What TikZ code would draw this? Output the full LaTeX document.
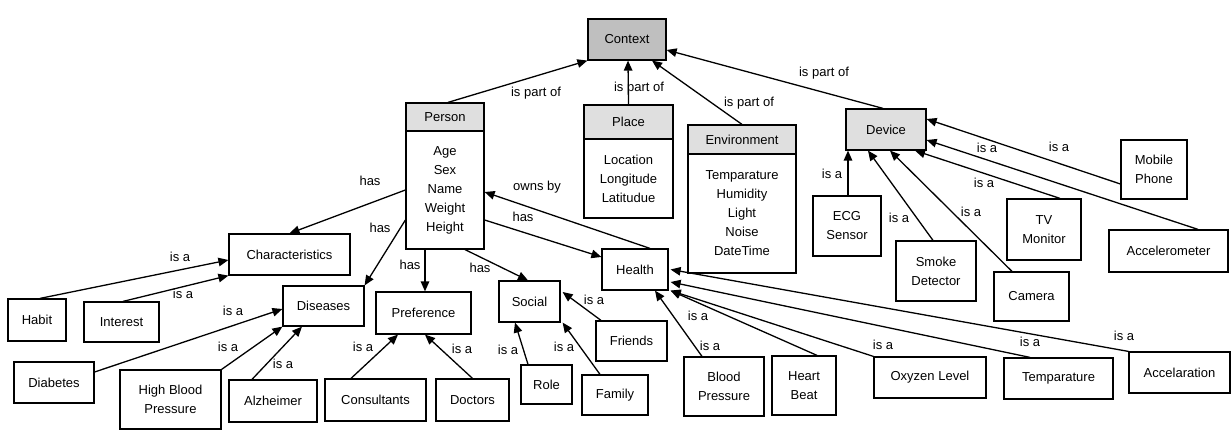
\documentclass[tikz,border=0pt]{standalone}
\usepackage{fontspec}
\setmainfont{Liberation Sans}
\usetikzlibrary{arrows.meta}
\begin{document}
\begin{tikzpicture}[x=1pt,y=-1pt,
  every node/.style={font=\fontsize{13}{19}\selectfont},
  box/.style={draw, line width=1.2pt, inner sep=0pt, align=center},
  lbl/.style={inner sep=0pt},
  conn/.style={line width=1.3pt, -{Triangle[length=10pt,width=8.5pt]}},
  hdr/.style={box, fill=gray!25},
]
\useasboundingbox (0,0) rectangle (1231,443);
% top
\node[box, fill=gray!50, minimum width=78pt, minimum height=41pt] (context) at (627,39.5) {Context};
% person
\node[hdr, minimum width=78pt, minimum height=28pt] (personh) at (445,117) {Person};
\node[box, minimum width=78pt, minimum height=118pt] (personb) at (445,190) {Age\\Sex\\Name\\Weight\\Height};
% place
\node[hdr, minimum width=89pt, minimum height=34pt] (placeh) at (628.5,122) {Place};
\node[box, minimum width=89pt, minimum height=79pt] (placeb) at (628.5,178.5) {Location\\Longitude\\Latitudue};
% environment
\node[hdr, minimum width=108pt, minimum height=29pt] (envh) at (742,139.5) {Environment};
\node[box, minimum width=108pt, minimum height=119pt] (envb) at (742,213.5) {Temparature\\Humidity\\Light\\Noise\\DateTime};
% device
\node[hdr, minimum width=80pt, minimum height=41pt] (device) at (886,129.5) {Device};
\node[box, minimum width=68pt, minimum height=60pt] (ecg) at (847,226) {ECG\\Sensor};
\node[box, minimum width=80pt, minimum height=60pt] (smoke) at (936,271) {Smoke\\Detector};
\node[box, minimum width=75pt, minimum height=49pt] (camera) at (1031.5,296.5) {Camera};
\node[box, minimum width=74pt, minimum height=61pt] (tv) at (1044,229.5) {TV\\Monitor};
\node[box, minimum width=66pt, minimum height=59pt] (mobile) at (1154,169.5) {Mobile\\Phone};
\node[box, minimum width=119pt, minimum height=42pt] (accm) at (1168.5,251) {Accelerometer};
% health
\node[box, minimum width=66pt, minimum height=41pt] (health) at (635,269.5) {Health};
\node[box, minimum width=112pt, minimum height=41pt] (oxy) at (930,377.5) {Oxyzen Level};
\node[box, minimum width=109pt, minimum height=41pt] (temp) at (1058.5,378.5) {Temparature};
\node[box, minimum width=101pt, minimum height=41pt] (accel) at (1179.5,372.5) {Accelaration};
\node[box, minimum width=64pt, minimum height=59pt] (heart) at (804,385.5) {Heart\\Beat};
\node[box, minimum width=80pt, minimum height=59pt] (bp) at (724,386.5) {Blood\\Pressure};
% social
\node[box, minimum width=61pt, minimum height=41pt] (social) at (529.5,301.5) {Social};
\node[box, minimum width=71pt, minimum height=40pt] (friends) at (631.5,341) {Friends};
\node[box, minimum width=51pt, minimum height=39pt] (role) at (546.5,384.5) {Role};
\node[box, minimum width=66pt, minimum height=40pt] (family) at (615,395) {Family};
% preference
\node[box, minimum width=95pt, minimum height=42pt] (pref) at (423.5,313) {Preference};
\node[box, minimum width=101pt, minimum height=42pt] (consult) at (375.5,400) {Consultants};
\node[box, minimum width=73pt, minimum height=42pt] (doctors) at (472.5,400) {Doctors};
% diseases
\node[box, minimum width=81pt, minimum height=40pt] (diseases) at (323.5,306) {Diseases};
\node[box, minimum width=80pt, minimum height=41pt] (diabetes) at (54,382.5) {Diabetes};
\node[box, minimum width=101pt, minimum height=59pt] (hbp) at (170.5,399.5) {High Blood\\Pressure};
\node[box, minimum width=88pt, minimum height=42pt] (alz) at (273,401) {Alzheimer};
% characteristics
\node[box, minimum width=121pt, minimum height=41pt] (charac) at (289.5,254.5) {Characteristics};
\node[box, minimum width=58pt, minimum height=42pt] (habit) at (37,320) {Habit};
\node[box, minimum width=75pt, minimum height=40pt] (interest) at (121.5,322) {Interest};

% edges to context
\draw[conn] ([xshift=3pt]personh.north) -- (context.south west);
\draw[conn] (placeh.north) -- ([xshift=1pt]context.south);
\draw[conn] (envh.north) -- ([xshift=25pt]context.south);
\draw[conn] ([xshift=-3pt]device.north) -- ([yshift=-10.5pt]context.east);
\node[lbl] (l1) at (536,93) {is part of};
\node[lbl] (l2) at (639,88) {is part of};
\node[lbl] (l3) at (749,103) {is part of};
\node[lbl] (l4) at (824,73) {is part of};
% person edges
\draw[conn] (personb.west) -- (charac.north);
\draw[conn] ([yshift=-30pt]personb.west) -- (diseases.north east);
\draw[conn] ([xshift=-20pt]personb.south) -- ([xshift=1.5pt]pref.north);
\draw[conn] ([xshift=20pt]personb.south) -- ([xshift=-1.5pt]social.north);
\draw[conn] ([yshift=-30pt]personb.east) -- ([yshift=12.5pt]health.west);
\draw[conn] ([xshift=15pt]health.north) -- ([yshift=-2pt]personb.east);
\node[lbl] (l5) at (370,181) {has};
\node[lbl] (l6) at (380,228) {has};
\node[lbl] (l7) at (410,265) {has};
\node[lbl] (l8) at (480,268) {has};
\node[lbl] (l9) at (523,217) {has};
\node[lbl] (l10) at (537,187) {owns by};
% characteristics
\draw[conn] ([xshift=3pt]habit.north) -- ([yshift=-5.5pt]charac.west);
\draw[conn] ([xshift=1.5pt]interest.north) -- (charac.south west);
\node[lbl] (l11) at (180,257) {is a};
\node[lbl] (l12) at (183,294) {is a};
% diseases
\draw[conn] ([yshift=10.5pt]diabetes.east) -- ([yshift=-3pt]diseases.west);
\draw[conn] (hbp.north east) -- (diseases.south west);
\draw[conn] ([xshift=-21pt]alz.north) -- ([xshift=-21.5pt]diseases.south);
\node[lbl] (l13) at (233,311) {is a};
\node[lbl] (l14) at (228,347) {is a};
\node[lbl] (l15) at (283,364) {is a};
% preference
\draw[conn] ([xshift=-24.5pt]consult.north) -- ([xshift=-25.5pt]pref.south);
\draw[conn] (doctors.north) -- ([xshift=1.5pt]pref.south);
\node[lbl] (l16) at (363,347) {is a};
\node[lbl] (l17) at (462,349) {is a};
% social
\draw[conn] ([xshift=-18.5pt]role.north) -- ([xshift=-14.5pt]social.south);
\draw[conn] ([xshift=-15pt]family.north) -- ([xshift=2pt]social.south east);
\draw[conn] ([xshift=-30.5pt]friends.north) -- ([xshift=2pt,yshift=9.5pt]social.east);
\node[lbl] (l18) at (508,350) {is a};
\node[lbl] (l19) at (564,347) {is a};
\node[lbl] (l20) at (594,300) {is a};
% health
\draw[conn] ([xshift=-22pt]bp.north) -- ([xshift=20pt]health.south);
\draw[conn] ([xshift=13pt]heart.north) -- ([xshift=2pt]health.south east);
\draw[conn] (oxy.north west) -- ([xshift=2pt]health.south east);
\draw[conn] ([xshift=-28.5pt]temp.north) -- ([xshift=2pt,yshift=-12.5pt]health.east);
\draw[conn] (accel.north west) -- ([xshift=2pt]health.east);
\node[lbl] (l21) at (710,346) {is a};
\node[lbl] (l22) at (698,316) {is a};
\node[lbl] (l23) at (883,345) {is a};
\node[lbl] (l24) at (1030,342) {is a};
\node[lbl] (l25) at (1124,336) {is a};
% device
\draw[conn] ([xshift=1pt]ecg.north) -- ([xshift=-38pt]device.south);
\draw[conn] ([xshift=-3pt]smoke.north) -- ([xshift=-18pt]device.south);
\draw[conn] ([xshift=-19.5pt]camera.north) -- ([xshift=4pt]device.south);
\draw[conn] ([xshift=16pt]tv.north) -- ([xshift=29pt]device.south);
\draw[conn] ([xshift=29.5pt]accm.north) -- ([yshift=-10.5pt]device.east);
\draw[conn] ([yshift=-14.5pt]mobile.west) -- ([yshift=10.5pt]device.east);
\node[lbl] (l26) at (832,174) {is a};
\node[lbl] (l27) at (899,218) {is a};
\node[lbl] (l28) at (971,212) {is a};
\node[lbl] (l29) at (984,183) {is a};
\node[lbl] (l30) at (987,148) {is a};
\node[lbl] (l31) at (1059,147) {is a};
\end{tikzpicture}
\end{document}
